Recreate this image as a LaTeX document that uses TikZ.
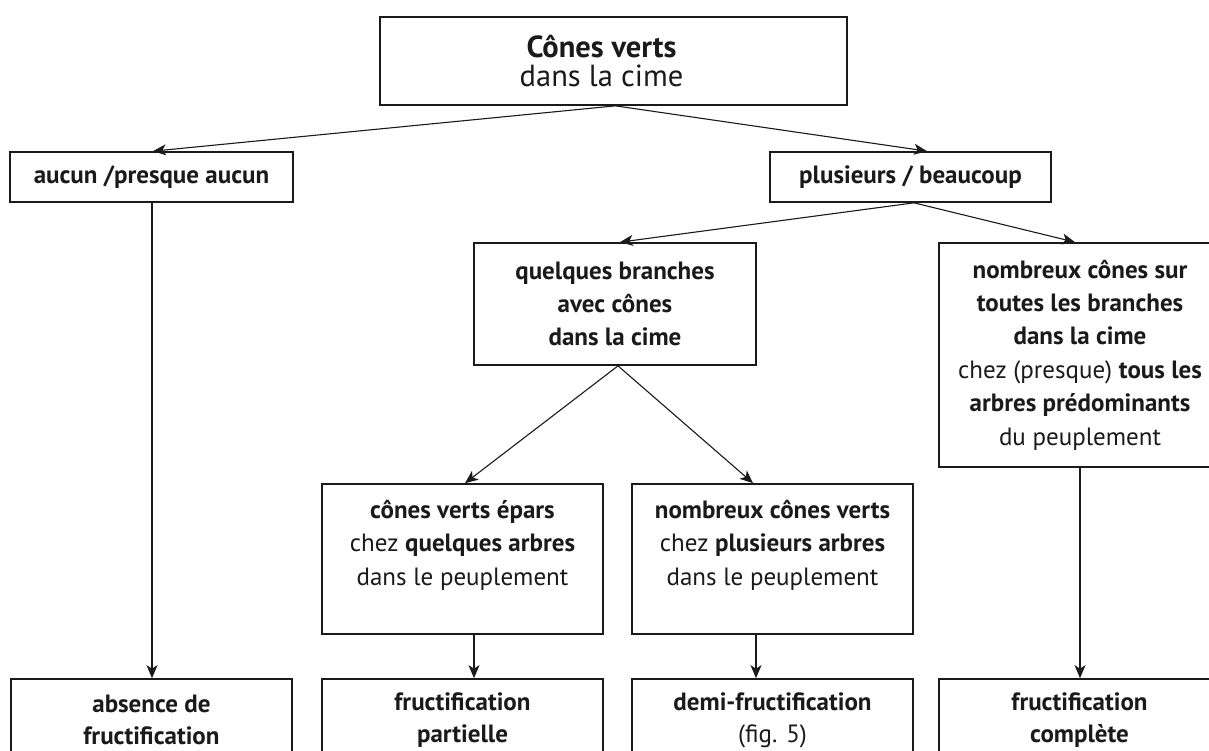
\documentclass[tikz,border=0pt]{standalone}
\usepackage{fontspec}
\setmainfont{PT Sans}
\usetikzlibrary{arrows.meta}
\definecolor{ink}{HTML}{1A1A1A}
\tikzset{
  box/.style={draw=ink, line width=1.7pt, inner sep=0pt, align=center, text=ink},
  txt/.style={inner sep=0pt, align=center, text=ink},
  arr/.style={draw=ink, line width=1.1pt, -{Stealth[length=13pt,width=11pt,inset=3.5pt]}},
  fmain/.style={font=\fontsize{25}{33.4}\selectfont},
  ftop/.style={font=\fontsize{30.5}{28.5}\selectfont},
  fbot/.style={font=\fontsize{25}{32}\selectfont},
}
\begin{document}
\begin{tikzpicture}[x=1pt,y=-1pt]
\useasboundingbox (0,0) rectangle (1209,751);
\clip (0,0) rectangle (1209,751);
\fill[white] (0,0) rectangle (1209,751);

% boxes
\node[box, minimum width=467pt, minimum height=88pt] (top) at (613.5,61) {};
\node[txt, ftop] (topt) at ([xshift=-12pt]top.center) {\textbf{Cônes verts}\\dans la cime};

\node[box, fmain, minimum width=283pt, minimum height=50pt] (aucun) at (151.5,177) {\textbf{aucun /presque aucun}};
\node[box, fmain, minimum width=281pt, minimum height=50pt] (plus) at (910.5,177) {\textbf{plusieurs / beaucoup}};

\node[box, fmain, minimum width=282pt, minimum height=122pt] (quel) at (615,304)
  {\textbf{quelques branches}\\\textbf{avec cônes}\\\textbf{dans la cime}};
\node[box, fmain, minimum width=282pt, minimum height=224pt] (nomb) at (1080,355)
  {\textbf{nombreux cônes sur}\\\textbf{toutes les branches}\\\textbf{dans la cime}\\chez (presque) \textbf{tous les}\\\textbf{arbres prédominants}\\du peuplement};

\node[box, minimum width=281pt, minimum height=150pt] (mida) at (462.5,559) {};
\node[txt, fmain] (midat) at ([yshift=-62pt]mida.north)
  {\textbf{cônes verts épars}\\chez \textbf{quelques arbres}\\dans le peuplement};
\node[box, minimum width=281pt, minimum height=150pt] (midb) at (772.5,559) {};
\node[txt, fmain] (midbt) at ([yshift=-62pt]midb.north)
  {\textbf{nombreux cônes verts}\\chez \textbf{plusieurs arbres}\\dans le peuplement};

\node[box, fbot, minimum width=281pt, minimum height=82pt] (ba) at (151.5,720) {\textbf{absence de}\\\textbf{fructification}};
\node[box, fbot, minimum width=281pt, minimum height=82pt] (bb) at (462.5,720) {\textbf{fructification}\\\textbf{partielle}};
\node[box, fbot, minimum width=281pt, minimum height=82pt] (bc) at (772.5,720) {\textbf{demi-fructification}\\(fig. 5)};
\node[box, fbot, minimum width=281pt, minimum height=82pt] (bd) at (1079.5,720) {\textbf{fructification}\\\textbf{complète}};

% connectors
\draw[arr] ([xshift=2pt]top.south) -- ([xshift=1.5pt]aucun.north);
\draw[arr] ([xshift=2pt]top.south) -- ([xshift=16.5pt]plus.north);
\draw[arr] ([xshift=3.5pt]plus.south) -- ([xshift=5pt]quel.north);
\draw[arr] ([xshift=3.5pt]plus.south) -- ([xshift=-5pt]nomb.north);
\draw[arr] ([xshift=3pt]quel.south) -- ([xshift=2.5pt]mida.north);
\draw[arr] ([xshift=3pt]quel.south) -- ([xshift=-19.5pt]midb.north);
\draw[arr] ([xshift=0.5pt]aucun.south) -- ([xshift=0.5pt]ba.north);
\draw[arr] ([xshift=11.5pt]mida.south) -- ([xshift=11.5pt]bb.north);
\draw[arr] ([xshift=-16.5pt]midb.south) -- ([xshift=-16.5pt]bc.north);
\draw[arr] (nomb.south) -- ([xshift=0.5pt]bd.north);
\end{tikzpicture}
\end{document}
